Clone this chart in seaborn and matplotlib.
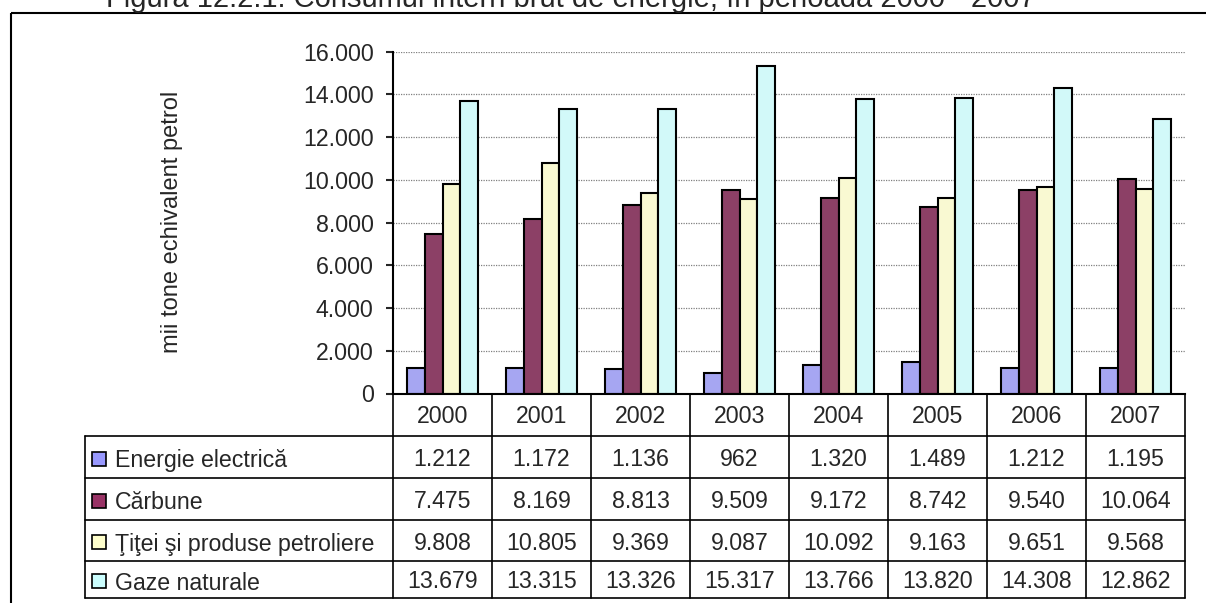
import matplotlib
matplotlib.use("Agg")
import matplotlib.pyplot as plt
from matplotlib.patches import Rectangle
import seaborn as sns
import pandas as pd

# date din figura
ani = ['2000', '2001', '2002', '2003', '2004', '2005', '2006', '2007']
categorii = ['Energie electrică', 'Cărbune', 'Ţiţei şi produse petroliere', 'Gaze naturale']
energie_electrica = [1212, 1172, 1136, 962, 1320, 1489, 1212, 1195]
carbune = [7475, 8169, 8813, 9509, 9172, 8742, 9540, 10064]
titei = [9808, 10805, 9369, 9087, 10092, 9163, 9651, 9568]
gaze = [13679, 13315, 13326, 15317, 13766, 13820, 14308, 12862]
culori = ['#9999FF', '#993366', '#FFFFCC', '#CCFFFF']

titlu = 'Figura 12.2.1. Consumul intern brut de energie, în perioada 2000 - 2007'
eticheta_y = 'mii tone echivalent petrol'

serii = [energie_electrica, carbune, titei, gaze]
df = pd.DataFrame({
    'An': ani * len(categorii),
    'Categorie': [c for c in categorii for _ in ani],
    'Valoare': [v for s in serii for v in s],
})


def fmt(v):
    return f'{v:,.0f}'.replace(',', '.')


sns.set_style("white")
plt.rcParams['font.family'] = ['Liberation Sans', 'DejaVu Sans']

W, H = 1206, 603
fig = plt.figure(figsize=(W / 100, H / 100), dpi=100)

# zona graficului (pixeli): x 393..1185, y 51.7..393.5
x0, x1, ytop, ybot = 393, 1185, 51.7, 393.5
ax = fig.add_axes([x0 / W, (H - ybot) / H, (x1 - x0) / W, (ybot - ytop) / H])

sns.barplot(
    data=df, x='An', y='Valoare', hue='Categorie',
    order=ani, hue_order=categorii, palette=culori,
    width=0.72, gap=0, edgecolor='black', linewidth=1.5,
    legend=False, ax=ax,
)

ax.set_xlim(-0.5, len(ani) - 0.5)
ax.set_ylim(0, 16000)
ax.set_yticks(range(0, 16001, 2000))
ax.set_yticklabels([fmt(v) for v in range(0, 16001, 2000)], fontsize=16.7)
ax.tick_params(axis='y', length=5, width=1.5, pad=9, direction='out', left=True)
ax.tick_params(axis='x', length=0, labelbottom=False)
ax.set_xlabel('')
ax.set_ylabel('')
ax.yaxis.grid(True, linestyle=(0, (1, 1)), color='#808080', linewidth=0.9)
ax.set_axisbelow(True)
for s in ['top', 'right']:
    ax.spines[s].set_visible(False)
for s in ['left', 'bottom']:
    ax.spines[s].set_color('black')
    ax.spines[s].set_linewidth(1.5)

# strat suprapus in pixeli pentru tabel, titlu si chenar
ov = fig.add_axes([0, 0, 1, 1])
ov.set_xlim(0, W)
ov.set_ylim(H, 0)
ov.axis('off')

# chenar exterior
ov.plot([11, 11], [12.5, H], color='black', lw=1.5, solid_capstyle='butt')
ov.plot([11, W], [12.5, 12.5], color='black', lw=1.5, solid_capstyle='butt')

ov.text(571, 7, titlu, ha='center', va='baseline', fontsize=21, clip_on=False)
fig.text(172 / W, 1 - 222 / H, eticheta_y, rotation=90, ha='center', va='center',
         fontsize=17)

# tabel de date
fig.canvas.draw()
lim = [ax.transData.transform((i - 0.5, 0))[0] for i in range(len(ani) + 1)]
centre = [ax.transData.transform((i, 0))[0] for i in range(len(ani))]
rand = [393.5, 436, 478, 520, 561, 598]
tab_stanga = 85
lw_tab = 1.2

for xl in lim:
    ov.plot([xl, xl], [rand[0], rand[-1]], color='black', lw=lw_tab)
ov.plot([tab_stanga, tab_stanga], [rand[1], rand[-1]], color='black', lw=lw_tab)
for yr in rand[1:]:
    ov.plot([tab_stanga, lim[-1]], [yr, yr], color='black', lw=lw_tab)

for xc, an in zip(centre, ani):
    ov.text(xc, (rand[0] + rand[1]) / 2 + 8, an, ha='center', va='baseline', fontsize=16.7)

for k, (cat, serie, cul) in enumerate(zip(categorii, serii, culori)):
    ymid = (rand[k + 1] + rand[k + 2]) / 2
    ov.add_patch(Rectangle((92, ymid - 5.5), 14, 14, facecolor=cul, edgecolor='black', lw=1.2))
    ov.text(115, ymid + 10, cat, ha='left', va='baseline', fontsize=16.7)
    for xc, v in zip(centre, serie):
        ov.text(xc, ymid + 9, fmt(v), ha='center', va='baseline', fontsize=16.7)

fig.savefig('out.png', dpi=100)
plt.close(fig)
